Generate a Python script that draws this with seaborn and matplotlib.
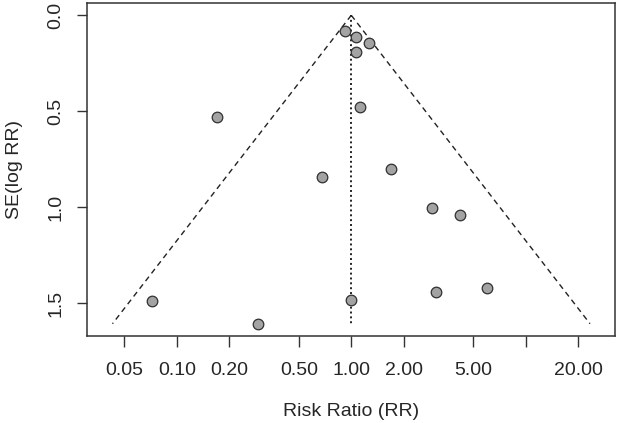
import numpy as np
import pandas as pd
import seaborn as sns
import matplotlib
matplotlib.use("Agg")
import matplotlib.pyplot as plt

# study estimates
rr = [0.92, 1.07, 1.27, 1.064, 1.116, 0.170, 0.679, 1.68, 2.91, 4.19,
      0.072, 0.292, 0.996, 3.05, 5.97]
se = [0.080, 0.111, 0.147, 0.191, 0.476, 0.531, 0.845, 0.801, 1.007, 1.040,
      1.491, 1.608, 1.484, 1.443, 1.422]
pooled_rr = 1.0

xticks = [0.05, 0.10, 0.20, 0.50, 1.00, 2.00, 5.00, 10.0, 20.00]
xticklabels = ["0.05", "0.10", "0.20", "0.50", "1.00", "2.00", "5.00", "", "20.00"]
yticks = [0.0, 0.5, 1.0, 1.5]
yticklabels = ["0.0", "0.5", "1.0", "1.5"]

df = pd.DataFrame({"rr": rr, "se": se})

sns.set_style("ticks")
plt.rcParams["font.family"] = ["Liberation Sans", "DejaVu Sans"]

fig = plt.figure(figsize=(6.18, 4.23), dpi=100)
ax = fig.add_axes([87 / 618, 1 - 336 / 423, (615 - 87) / 618, (336 - 3) / 423])

# funnel (pseudo 95% CI) and reference line
se_max = df["se"].max()
se_grid = np.array([0.0, se_max])
lo = np.exp(np.log(pooled_rr) - 1.96 * se_grid)
hi = np.exp(np.log(pooled_rr) + 1.96 * se_grid)
ax.plot(lo, se_grid, ls=(0, (4, 3)), color="#222222", lw=1.0)
ax.plot(hi, se_grid, ls=(0, (4, 3)), color="#222222", lw=1.0)
ax.plot([pooled_rr, pooled_rr], se_grid, ls=(0, (1, 1.5)), color="#222222", lw=1.4)

sns.scatterplot(data=df, x="rr", y="se", ax=ax, s=58, color="#a3a3a3",
                edgecolor="#303030", linewidth=0.9, zorder=3, legend=False)

ax.set_xscale("log")
ax.set_xlim(10 ** -1.515, 10 ** 1.512)
ax.set_ylim(1.672, -0.064)
ax.set_xticks(xticks)
ax.set_xticklabels(xticklabels)
ax.minorticks_off()
ax.set_yticks(yticks)
ax.set_yticklabels(yticklabels, rotation=90, va="center")

ax.tick_params(axis="x", length=8, width=1, pad=11, labelsize=14, color="#333333")
ax.tick_params(axis="y", length=7.5, width=1, pad=9, labelsize=14, color="#333333")
for s in ax.spines.values():
    s.set_visible(True)
    s.set_linewidth(1.1)
    s.set_color("#333333")

ax.set_xlabel("Risk Ratio (RR)", fontsize=14, labelpad=17)
ax.set_ylabel("SE(log RR)", fontsize=14, labelpad=17)

fig.savefig("out.png", dpi=100)
